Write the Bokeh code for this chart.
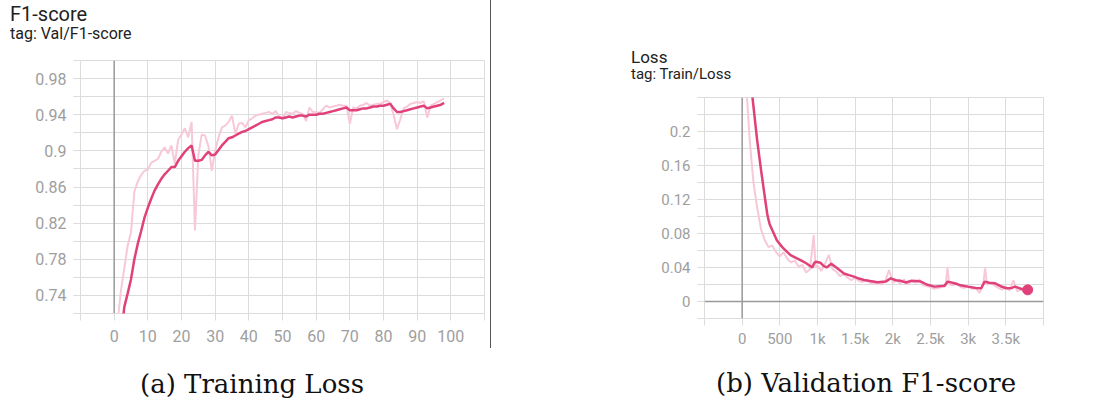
from bokeh.plotting import figure
from bokeh.models import FixedTicker, Span, Spacer, Div
from bokeh.layouts import row, column
from bokeh.embed import file_html
from bokeh.resources import INLINE

# ---------------- data: (a) F1-score per epoch ----------------
f1_epoch = list(range(0, 99))
f1_raw = [0.55, 0.71, 0.745, 0.77, 0.795, 0.81, 0.855, 0.866, 0.873, 0.878,
          0.879, 0.887, 0.889, 0.891, 0.899, 0.904, 0.897, 0.906, 0.886, 0.912,
          0.918, 0.925, 0.915, 0.932, 0.812, 0.895, 0.918, 0.917, 0.905, 0.878,
          0.900, 0.915, 0.926, 0.928, 0.932, 0.939, 0.919, 0.930, 0.931, 0.926,
          0.934, 0.936, 0.939, 0.940, 0.941, 0.942, 0.943, 0.941, 0.944, 0.938,
          0.935, 0.943, 0.942, 0.941, 0.944, 0.942, 0.941, 0.933, 0.948, 0.943,
          0.943, 0.942, 0.946, 0.950, 0.948, 0.949, 0.950, 0.951, 0.950, 0.950,
          0.930, 0.948, 0.947, 0.950, 0.951, 0.953, 0.950, 0.951, 0.952, 0.952,
          0.954, 0.956, 0.953, 0.940, 0.924, 0.935, 0.947, 0.949, 0.952, 0.953,
          0.954, 0.953, 0.955, 0.937, 0.950, 0.952, 0.954, 0.956, 0.958]
f1_smooth = [0.55, 0.63, 0.69, 0.727, 0.742, 0.758, 0.780, 0.797, 0.811, 0.826,
             0.837, 0.847, 0.856, 0.863, 0.869, 0.874, 0.878, 0.882, 0.882, 0.889,
             0.894, 0.899, 0.903, 0.906, 0.889, 0.889, 0.890, 0.895, 0.899, 0.895,
             0.896, 0.901, 0.906, 0.910, 0.914, 0.915, 0.917, 0.919, 0.921, 0.922,
             0.924, 0.926, 0.928, 0.930, 0.932, 0.933, 0.934, 0.935, 0.937, 0.937,
             0.936, 0.937, 0.938, 0.937, 0.938, 0.939, 0.939, 0.938, 0.940, 0.940,
             0.940, 0.941, 0.941, 0.942, 0.943, 0.944, 0.945, 0.946, 0.947, 0.948,
             0.945, 0.945, 0.945, 0.946, 0.947, 0.947, 0.948, 0.949, 0.949, 0.950,
             0.950, 0.951, 0.952, 0.947, 0.943, 0.943, 0.944, 0.945, 0.946, 0.947,
             0.948, 0.949, 0.950, 0.947, 0.948, 0.949, 0.950, 0.951, 0.953]
f1_xticks = [0, 10, 20, 30, 40, 50, 60, 70, 80, 90, 100]
f1_xminor = [-10, 110]
f1_yticks = [0.74, 0.78, 0.82, 0.86, 0.90, 0.94, 0.98]
f1_ylabels = ["0.74", "0.78", "0.82", "0.86", "0.9", "0.94", "0.98"]
f1_yminor = [0.72, 0.76, 0.80, 0.84, 0.88, 0.92, 0.96, 1.0]

# ---------------- data: (b) Train loss per step ----------------
loss_raw_step = [0, 50, 100, 150, 200, 250, 300, 350, 400, 450, 500, 550, 600, 650,
                 700, 750, 800, 850, 900, 950, 975, 1000, 1050, 1100, 1150, 1200,
                 1250, 1300, 1350, 1400, 1450, 1500, 1550, 1600, 1650, 1700, 1750,
                 1800, 1850, 1900, 1950, 2000, 2050, 2100, 2150, 2200, 2250, 2300,
                 2350, 2400, 2450, 2500, 2550, 2600, 2650, 2700, 2725, 2750, 2800,
                 2850, 2900, 2950, 3000, 3050, 3100, 3150, 3200, 3225, 3250, 3300,
                 3350, 3400, 3450, 3500, 3550, 3600, 3650, 3700, 3750, 3790]
loss_raw = [0.70, 0.26, 0.19, 0.14, 0.11, 0.085, 0.072, 0.064, 0.066, 0.058, 0.053,
            0.058, 0.050, 0.046, 0.048, 0.041, 0.043, 0.034, 0.038, 0.078, 0.040,
            0.042, 0.036, 0.044, 0.055, 0.038, 0.035, 0.030, 0.032, 0.028, 0.025,
            0.028, 0.024, 0.023, 0.025, 0.022, 0.021, 0.022, 0.020, 0.024, 0.037,
            0.022, 0.025, 0.021, 0.026, 0.020, 0.024, 0.022, 0.026, 0.019, 0.018,
            0.017, 0.015, 0.016, 0.017, 0.018, 0.040, 0.020, 0.019, 0.022, 0.017,
            0.016, 0.018, 0.015, 0.016, 0.010, 0.020, 0.039, 0.020, 0.022, 0.019,
            0.016, 0.014, 0.017, 0.013, 0.025, 0.012, 0.014, 0.011, 0.013]
loss_smooth_step = [0, 50, 100, 137, 200, 250, 288, 310, 333, 350, 365, 399, 460,
                    532, 600, 642, 720, 775, 850, 931, 955, 975, 1041, 1080, 1121,
                    1183, 1263, 1351, 1420, 1484, 1550, 1617, 1700, 1795, 1906, 1973,
                    2040, 2106, 2173, 2240, 2300, 2373, 2450, 2551, 2684, 2728, 2817,
                    2900, 2995, 3100, 3173, 3218, 3280, 3351, 3430, 3511, 3580, 3622,
                    3700, 3790]
loss_smooth = [0.70, 0.45, 0.30, 0.24, 0.189, 0.155, 0.131, 0.117, 0.103, 0.096,
               0.091, 0.084, 0.072, 0.064, 0.058, 0.0546, 0.051, 0.0487, 0.045,
               0.040, 0.045, 0.0467, 0.0455, 0.042, 0.040, 0.0443, 0.039, 0.033,
               0.031, 0.0292, 0.027, 0.0253, 0.024, 0.0227, 0.0234, 0.0273, 0.025,
               0.0243, 0.0224, 0.0243, 0.024, 0.0234, 0.020, 0.0175, 0.0184, 0.0234,
               0.0215, 0.019, 0.0175, 0.016, 0.0156, 0.0234, 0.022, 0.0215, 0.018,
               0.0156, 0.016, 0.0175, 0.015, 0.0137]
loss_xticks = [0, 500, 1000, 1500, 2000, 2500, 3000, 3500]
loss_xlabels = ["0", "500", "1k", "1.5k", "2k", "2.5k", "3k", "3.5k"]
loss_xminor = [-500, 4000]
loss_yticks = [0, 0.04, 0.08, 0.12, 0.16, 0.2]
loss_ylabels = ["0", "0.04", "0.08", "0.12", "0.16", "0.2"]
loss_yminor = [-0.02, 0.02, 0.06, 0.10, 0.14, 0.18, 0.22, 0.24]

SMOOTH = "#e0417a"
RAW = "#f7c9d8"
GRID = "#dcdcdc"
ZERO = "#9a9a9a"
TICKLBL = "#9e9e9e"
UI_FONT = "Roboto"


def style(p, xt, xminor, yt, yminor, ylabels, xlabels, lblsize, xstand, ystand):
    p.xaxis.ticker = FixedTicker(ticks=xt, minor_ticks=xminor)
    p.yaxis.ticker = FixedTicker(ticks=yt, minor_ticks=yminor)
    p.xaxis.major_label_overrides = {t: l for t, l in zip(xt, xlabels)}
    p.yaxis.major_label_overrides = {t: l for t, l in zip(yt, ylabels)}
    for ax in (p.xaxis[0], p.yaxis[0]):
        ax.axis_line_color = None
        ax.major_tick_line_color = GRID
        ax.minor_tick_line_color = GRID
        ax.major_tick_out = 7
        ax.major_tick_in = 0
        ax.minor_tick_out = 7
        ax.minor_tick_in = 0
        ax.major_label_text_color = TICKLBL
        ax.major_label_text_font = UI_FONT
        ax.major_label_text_font_size = lblsize
    p.xaxis.major_label_standoff = xstand
    p.yaxis.major_label_standoff = ystand
    for g in (p.xgrid[0], p.ygrid[0]):
        g.grid_line_color = GRID
        g.minor_grid_line_color = GRID
        g.grid_line_width = 1
        g.minor_grid_line_width = 1
    p.outline_line_color = GRID
    p.background_fill_color = "white"
    p.border_fill_color = "white"


def header(title, tag, w, h, left, top1, fs1, gap, fs2):
    html = (
        f'<div style="margin:{top1}px 0 0 {left}px;font-family:Roboto;'
        f'font-size:{fs1}px;line-height:{fs1}px;color:#212121;white-space:nowrap">{title}</div>'
        f'<div style="margin:{gap}px 0 0 {left}px;font-family:Roboto;'
        f'font-size:{fs2}px;line-height:{fs2}px;color:#212121;white-space:nowrap">{tag}</div>'
    )
    return Div(text=html, width=w, height=h, margin=0)


def caption(text, w, h, left, boxw, top):
    html = (
        f'<div style="margin:{top}px 0 0 {left}px;width:{boxw}px;'
        f'font-family:\'DejaVu Serif\';font-size:26px;line-height:26px;'
        f'color:#111111;text-align:center;white-space:nowrap">{text}</div>'
    )
    return Div(text=html, width=w, height=h, margin=0)


# ---------------- left figure ----------------
p1 = figure(width=490, height=303, x_range=(-10, 110), y_range=(0.72, 1.0),
            output_backend="svg", toolbar_location=None, frame_align=False,
            min_border_left=80, min_border_right=6, min_border_top=10,
            min_border_bottom=40, margin=0)
style(p1, f1_xticks, f1_xminor, f1_yticks, f1_yminor, f1_ylabels,
      [str(t) for t in f1_xticks], "16px", 9, 7)
p1.add_layout(Span(location=0, dimension="height", line_color=ZERO,
                   line_width=1.5, level="underlay"))
p1.line(f1_epoch, f1_raw, line_color=RAW, line_width=2)
p1.line(f1_epoch, f1_smooth, line_color=SMOOTH, line_width=2.5)

left_col = column(
    header("F1-score", "tag: Val/F1-score", 490, 50, 10, 4, 20, 2, 16),
    p1,
    caption("(a) Training Loss", 490, 45, 102, 300, 18),
    spacing=0, margin=0,
)

# ---------------- right figure ----------------
p2 = figure(width=600, height=271, x_range=(-500, 4000), y_range=(-0.02, 0.24),
            output_backend="svg", toolbar_location=None, frame_align=False,
            min_border_left=213, min_border_right=48, min_border_top=10,
            min_border_bottom=40, margin=0)
style(p2, loss_xticks, loss_xminor, loss_yticks, loss_yminor, loss_ylabels,
      loss_xlabels, "15px", 4, 7)
p2.add_layout(Span(location=0, dimension="height", line_color=ZERO,
                   line_width=1.5, level="underlay"))
p2.add_layout(Span(location=0, dimension="width", line_color=ZERO,
                   line_width=1.5, level="underlay"))
p2.line(loss_raw_step, loss_raw, line_color=RAW, line_width=2)
p2.line(loss_smooth_step, loss_smooth, line_color=SMOOTH, line_width=2.5)
p2.scatter([loss_smooth_step[-1]], [loss_smooth[-1]], size=10, color=SMOOTH)

right_col = column(
    header("Loss", "tag: Train/Loss", 600, 87, 140, 49, 17, 1, 15),
    p2,
    caption("(b) Validation F1-score", 600, 40, 205, 340, 12),
    spacing=0, margin=0,
)

sep = Spacer(width=1, height=348, margin=0, styles={"background-color": "#555555"})

layout = row(left_col, sep, right_col, spacing=0, margin=0)
open("out.html", "w").write(file_html(layout, INLINE))
